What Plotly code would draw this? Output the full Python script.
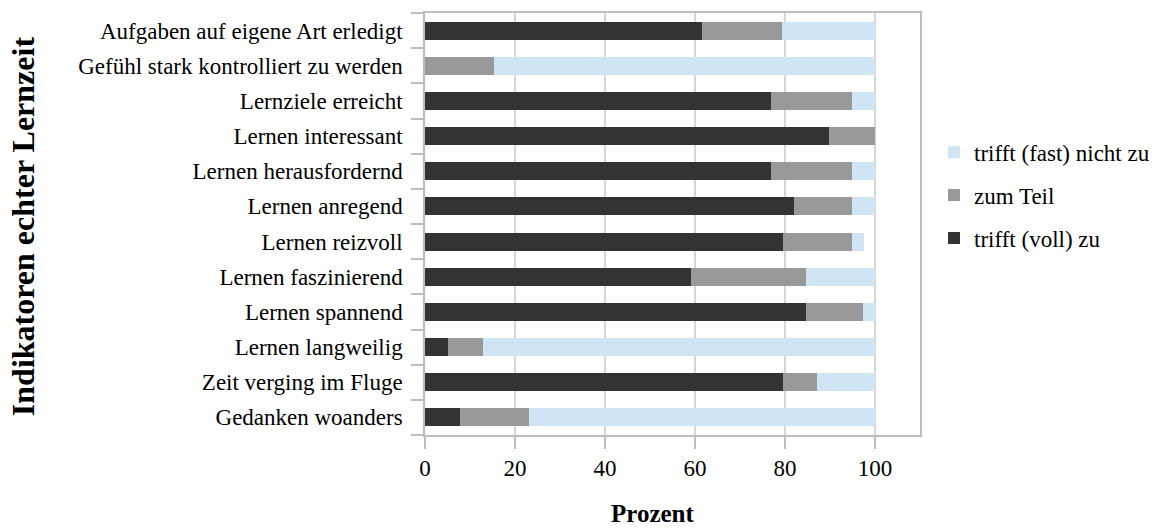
import plotly.graph_objects as go

# Indicators, listed bottom to top as plotted on the category axis
categories = [
    "Gedanken woanders",
    "Zeit verging im Fluge",
    "Lernen langweilig",
    "Lernen spannend",
    "Lernen faszinierend",
    "Lernen reizvoll",
    "Lernen anregend",
    "Lernen herausfordernd",
    "Lernen interessant",
    "Lernziele erreicht",
    "Gefühl stark kontrolliert zu werden",
    "Aufgaben auf eigene Art erledigt",
]

# Percentages per answer category
trifft_voll = [7.7, 79.5, 5.1, 84.6, 59.0, 79.5, 82.1, 76.9, 89.7, 76.9, 0.0, 61.5]
zum_teil = [15.4, 7.7, 7.7, 12.8, 25.6, 15.4, 12.8, 17.9, 10.3, 17.9, 15.4, 17.9]
trifft_nicht = [76.9, 12.8, 87.2, 2.6, 15.4, 2.6, 5.1, 5.1, 0.0, 5.1, 84.6, 20.5]

x_ticks = [0, 20, 40, 60, 80, 100]

serif = "Liberation Serif, Times New Roman, serif"

# (name, values, colour, legend rank) - stacked left to right, listed top-down in the legend
series = [
    ("trifft (voll) zu", trifft_voll, "#333333", 3),
    ("zum Teil", zum_teil, "#999999", 2),
    ("trifft (fast) nicht zu", trifft_nicht, "#cfe5f3", 1),
]

fig = go.Figure()
for i, (name, vals, color, rank) in enumerate(series):
    fig.add_trace(go.Bar(
        y=categories, x=vals, name=name, orientation="h",
        legendgroup=f"g{i}", legendrank=rank,
        marker=dict(color=color, line=dict(width=0)),
    ))

fig.update_layout(
    barmode="stack",
    bargap=0.49,
    width=1168, height=531,
    margin=dict(l=425, r=248, t=13, b=96),
    paper_bgcolor="white", plot_bgcolor="white",
    font=dict(family=serif, size=23, color="#000000"),
    showlegend=True,
    legend=dict(
        traceorder="grouped",
        x=1.0283, xanchor="left", y=0.721, yanchor="top",
        font=dict(family=serif, size=23),
        tracegroupgap=10,
        itemwidth=30,
        borderwidth=0,
    ),
    xaxis=dict(
        range=[0, 110],
        tickmode="array", tickvals=x_ticks, ticktext=[str(t) for t in x_ticks],
        ticks="outside", ticklen=12, tickcolor="#bdbdbd", tickwidth=1.5,
        tickfont=dict(family=serif, size=23),
        showgrid=True, gridcolor="#d6d6d6", gridwidth=1.5,
        showline=True, linecolor="#bdbdbd", linewidth=1.5, mirror=True,
        zeroline=False,
    ),
    yaxis=dict(
        type="category",
        categoryorder="array", categoryarray=categories,
        range=[-0.5, 11.5],
        ticks="outside", tickson="boundaries", ticklen=12,
        tickcolor="#bdbdbd", tickwidth=1.5,
        ticklabelstandoff=16,
        tickfont=dict(family=serif, size=23),
        showgrid=False,
        showline=True, linecolor="#bdbdbd", linewidth=1.5, mirror=True,
    ),
    annotations=[
        dict(text="<b>Indikatoren echter Lernzeit</b>", textangle=-90,
             xref="paper", yref="paper", x=-0.812, y=0.495,
             xanchor="center", yanchor="middle", showarrow=False,
             font=dict(family=serif, size=32)),
        dict(text="<b>Prozent</b>",
             xref="paper", yref="paper", x=0.4606, y=-0.185,
             xanchor="center", yanchor="middle", showarrow=False,
             font=dict(family=serif, size=25)),
    ],
)

fig.write_html("out.html")
